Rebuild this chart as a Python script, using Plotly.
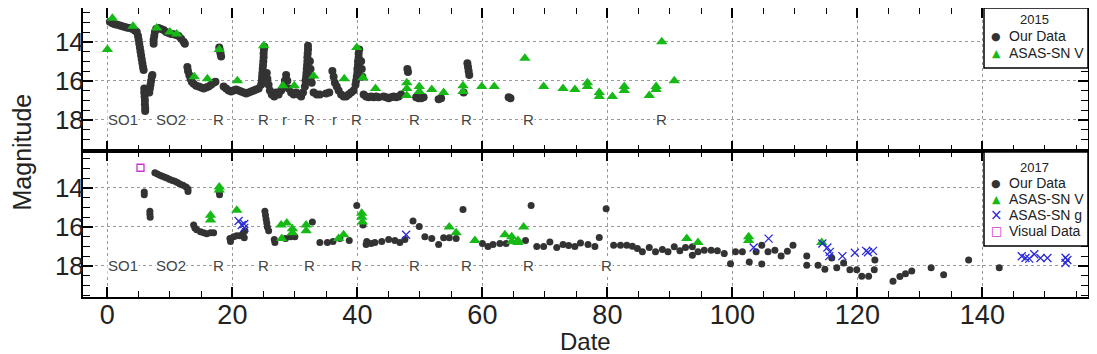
import plotly.graph_objects as go
from plotly.subplots import make_subplots

# 2015 outburst - our photometry
d15_date = [0.4, 0.8, 1.2, 1.6, 2.0, 2.4, 2.8, 3.2, 3.6, 4.0, 4.4, 4.7,
            4.9, 5.0, 5.1, 5.2, 5.3, 5.4, 5.5, 5.6, 5.7, 5.8,
            5.9, 5.9, 5.95, 6.0, 6.0, 6.05, 6.05,
            6.7, 6.8, 6.9, 7.0, 7.1, 7.2,
            7.4, 7.4, 7.5, 7.6, 7.8, 8.2, 8.6, 9.0, 9.4, 9.8, 10.2, 10.6, 11.0, 11.4, 11.8, 12.2, 12.4,
            12.8, 12.9, 13.1, 13.3, 13.5, 13.8, 14.2, 14.6, 15.0, 15.4, 15.8, 16.2, 16.6, 17.0, 17.3,
            17.9, 18.0, 18.1, 18.2,
            18.6, 19.0, 19.4, 19.8, 20.2, 20.6, 21.0, 21.4, 21.8, 22.2, 22.6, 23.0, 23.4, 23.8, 24.2,
            24.6, 24.7, 24.75, 24.8, 24.85, 24.9, 24.95, 25.0, 25.0, 25.05, 25.1,
            25.5, 25.6, 25.8, 26.0, 26.3, 26.7,
            27.0, 27.4, 27.8, 28.2, 28.4, 28.6, 28.8, 29.0, 29.4, 29.8, 30.2, 30.6, 31.0, 31.3,
            31.6, 31.7, 31.8, 31.85, 31.9, 31.95, 32.0, 32.0, 32.05, 32.1, 32.1, 32.4, 32.5, 32.6, 32.7,
            33.0, 33.5, 34.0, 35.0, 35.5,
            36.0, 36.2, 36.4, 36.7, 37.0, 37.4, 37.8, 38.2, 38.6, 39.0, 39.4,
            39.7, 39.8, 39.9, 40.0, 40.0, 40.1, 40.1, 40.2, 40.2, 40.3, 40.6, 40.7, 40.8,
            41.0, 41.4, 41.8, 42.2, 42.6, 43.0, 43.4, 44.2, 44.6, 45.0, 45.4, 45.8, 46.2, 46.6, 47.0,
            48.0, 48.1, 49.4, 49.8, 50.2, 50.6, 53.0, 53.4, 57.0,
            57.6, 57.7, 57.8, 57.9, 64.2, 64.5]
d15_mag = [12.98, 13.05, 13.1, 13.13, 13.17, 13.2, 13.24, 13.28, 13.3, 13.35, 13.42, 13.5,
           13.7, 13.9, 14.1, 14.3, 14.5, 14.7, 14.9, 15.1, 15.3, 15.45,
           16.4, 16.6, 16.8, 17.0, 17.2, 17.4, 17.55,
           16.6, 16.4, 16.2, 16.0, 15.8, 15.7,
           14.1, 13.9, 13.7, 13.5, 13.35, 13.3, 13.35, 13.4, 13.5, 13.55, 13.6, 13.62, 13.65, 13.7, 13.85, 14.0, 14.1,
           15.3, 15.5, 15.7, 15.9, 16.05, 16.15, 16.25, 16.3, 16.35, 16.4, 16.35, 16.3, 16.2, 16.1, 16.05,
           14.3, 14.45, 14.6, 14.75,
           16.3, 16.4, 16.5, 16.55, 16.5, 16.45, 16.5, 16.55, 16.6, 16.65, 16.6, 16.55, 16.5, 16.45, 16.4,
           16.2, 16.0, 15.8, 15.6, 15.4, 15.2, 15.0, 14.8, 14.6, 14.4, 14.25,
           15.6, 15.9, 16.2, 16.5, 16.7, 16.8,
           16.6, 16.7, 16.5, 16.3, 16.0, 15.7, 16.0, 16.4, 16.6, 16.7, 16.6, 16.7, 16.8, 16.6,
           16.3, 16.0, 15.8, 15.6, 15.4, 15.2, 15.0, 14.8, 14.6, 14.4, 14.2, 15.0, 15.4, 15.8, 16.1,
           16.6, 16.7, 16.7, 16.65, 16.6,
           15.5, 15.8, 16.1, 16.3, 16.5, 16.7, 16.8, 16.8, 16.7, 16.6, 16.5,
           16.2, 16.0, 15.8, 15.6, 15.4, 15.2, 15.0, 14.8, 14.6, 14.4, 15.0, 15.4, 15.8,
           16.7, 16.8, 16.85, 16.8, 16.85, 16.8, 16.85, 16.8, 16.85, 16.9, 16.85, 16.8, 16.85, 16.8, 16.7,
           15.4, 15.55, 16.85, 16.9, 16.9, 16.85, 16.95, 16.9, 16.6,
           15.1, 15.3, 15.5, 15.7, 16.85, 16.9]

# 2015 ASAS-SN V
v15_date = [0.0, 0.8, 4.1, 7.9, 10.0, 11.1, 13.9, 16.0, 17.9, 20.8, 25.0, 28.1, 29.9,
            33.0, 37.9, 39.9, 40.9, 42.9, 47.9, 47.9, 47.9, 49.9, 49.9, 51.9, 53.8,
            56.9, 56.9, 59.9, 61.9, 66.8, 69.8, 72.9, 74.8, 76.8, 76.8, 78.7, 78.7,
            80.8, 82.7, 82.7, 86.7, 87.8, 87.8, 88.7, 90.7]
v15_mag = [14.4, 12.8, 13.2, 13.3, 13.5, 13.6, 15.8, 15.9, 14.4, 16.0, 14.2, 16.25, 16.25,
           15.75, 15.9, 14.3, 15.85, 16.4, 16.1, 16.4, 16.75, 16.3, 16.55, 16.45, 16.6,
           16.25, 16.55, 16.3, 16.3, 14.85, 16.3, 16.4, 16.45, 16.1, 16.3, 16.6, 16.8,
           16.8, 16.3, 16.5, 16.75, 16.3, 16.45, 14.0, 16.0]

# 2017 outburst - our photometry
d17_date = [5.9, 5.9, 6.8, 6.8, 6.85,
            7.6, 8.0, 8.4, 8.8, 9.2, 9.6, 10.0, 10.4, 10.8, 11.2, 11.6, 12.1, 12.6, 12.9, 12.9,
            13.8, 14.0, 14.3, 14.9, 15.4, 15.9, 16.5, 17.0, 17.9, 17.95,
            19.6, 19.7, 20.2, 20.7, 21.2, 21.7, 21.9, 22.0,
            25.2, 25.3, 25.4, 25.5, 25.6, 25.8, 26.7, 26.8, 28.5, 29.3, 30.0, 32.8,
            34.0, 35.2, 36.1, 37.2, 38.7, 39.9, 40.9, 41.4, 41.5,
            42.2, 42.8, 43.9, 45.0, 46.0, 46.8, 47.6, 48.9, 49.9,
            50.8, 51.9, 53.0, 53.8, 54.7, 55.8, 56.9,
            60.0, 60.9, 61.7, 62.8, 63.8, 66.9, 67.8,
            68.7, 69.8, 70.8, 71.9, 72.9, 73.8, 74.8, 75.7, 76.9, 78.0, 78.7, 79.8,
            81.0, 82.1, 83.1, 84.0, 84.8, 85.6, 86.7, 87.7, 88.8, 89.7, 90.7, 91.6, 92.5,
            93.6, 93.6, 94.5, 95.5, 96.6, 97.6, 98.7, 99.7,
            100.5, 101.6, 102.7, 103.8, 104.7, 104.7, 105.7, 106.8, 107.8, 108.8, 109.7,
            111.9, 111.9, 113.7, 114.8, 115.9, 116.7, 117.8, 118.8, 119.9, 120.7, 121.8,
            122.7, 122.8, 125.7, 126.8, 127.7, 128.7, 131.8, 133.8, 137.8, 142.7]
d17_mag = [14.2, 14.35, 15.2, 15.35, 15.5,
           13.22, 13.28, 13.35, 13.4, 13.45, 13.5, 13.57, 13.62, 13.66, 13.72, 13.79, 13.86, 13.95, 14.05, 14.18,
           15.9, 16.05, 16.15, 16.25, 16.3, 16.35, 16.3, 16.3, 14.2, 14.35,
           16.6, 16.75, 16.5, 16.45, 16.45, 16.35, 16.55, 16.2,
           15.2, 15.4, 15.6, 15.8, 16.0, 16.2, 16.65, 16.8, 16.6, 16.5, 16.5, 15.75,
           16.8, 16.8, 16.75, 16.6, 16.7, 14.9, 15.9, 16.9, 16.75,
           16.85, 16.8, 16.75, 16.65, 16.7, 16.8, 16.65, 15.7, 15.98,
           16.5, 16.6, 16.9, 16.55, 16.55, 16.6, 15.1,
           16.85, 17.0, 16.9, 16.85, 16.85, 16.7, 14.9,
           17.0, 17.0, 16.77, 17.06, 16.9, 16.95, 17.0, 16.82, 16.9, 17.0, 16.54, 15.07,
           16.94, 16.94, 16.94, 16.99, 17.11, 17.28, 17.06, 17.28, 17.16, 17.28, 17.02, 17.23, 17.06,
           17.02, 17.46, 17.28, 17.2, 17.2, 17.23, 17.37, 17.89,
           17.28, 17.28, 17.8, 17.28, 16.94, 17.9, 17.28, 17.2, 17.5, 17.25, 16.94,
           17.5, 17.97, 17.97, 18.18, 17.6, 18.1, 17.85, 18.2, 18.2, 18.54, 18.54,
           18.2, 17.7, 18.79, 18.55, 18.4, 18.27, 18.1, 18.46, 17.7, 18.1]

# 2017 ASAS-SN V
v17_date = [17.9, 17.9, 16.5, 16.5, 20.7, 27.8, 28.7, 27.9, 29.6, 29.6, 31.8, 31.8,
            37.0, 37.8, 40.7, 40.7, 40.8, 54.7, 55.8, 58.8, 63.6, 64.7, 64.7, 65.7, 65.7,
            66.6, 92.7, 94.5, 102.6, 102.6, 114.3]
v17_mag = [13.95, 14.1, 15.4, 15.65, 15.15, 15.9, 15.8, 16.6, 16.1, 16.3, 15.9, 16.2,
           16.6, 16.4, 15.3, 15.5, 15.75, 16.0, 16.3, 16.7, 16.4, 16.5, 16.75, 16.7, 16.8,
           16.0, 16.6, 16.8, 16.5, 16.7, 16.8]

# 2017 ASAS-SN g
g17_date = [21.0, 21.5, 21.9, 21.9, 47.8, 103.4, 105.8, 114.4, 115.2, 115.6, 115.5,
            117.6, 119.6, 121.4, 121.7, 122.5, 146.3, 146.9, 147.5, 148.3, 149.3, 150.4,
            153.3, 153.3, 153.6]
g17_mag = [15.7, 15.9, 16.05, 15.85, 16.4, 17.06, 16.6, 16.85, 17.06, 17.28, 17.5,
           17.5, 17.33, 17.23, 17.3, 17.23, 17.51, 17.6, 17.63, 17.4, 17.6, 17.6,
           17.58, 17.85, 17.7]

# 2017 visual estimate
vis17_date = [5.3]
vis17_mag = [12.96]

# stage labels
lab15_date = [2.56, 10.1, 17.8, 25.0, 28.4, 32.4, 36.4, 39.9, 49.1, 57.5, 67.4, 88.7]
lab15_text = ["SO1", "SO2", "R", "R", "r", "R", "r", "R", "R", "R", "R", "R"]
lab17_date = [2.56, 10.1, 17.8, 25.0, 32.4, 39.9, 49.1, 57.5, 67.4, 79.9]
lab17_text = ["SO1", "SO2", "R", "R", "R", "R", "R", "R", "R", "R"]

FONT = "Liberation Sans, Arial, sans-serif"
DARK = "#333333"
GREEN = "#16b916"
BLUE = "#2a2ad8"
MAGENTA = "#cc33cc"
INK = "#222222"

# plot area in window pixels (page is drawn with an 8px body margin)
PX0, PX1, PY0, PY1 = 83, 1088, 8, 297


def px(x):
    return (x - PX0) / (PX1 - PX0)


def py(y):
    return (PY1 - y) / (PY1 - PY0)


fig = make_subplots(rows=2, cols=1, shared_xaxes=True, vertical_spacing=0)

fig.add_trace(go.Scatter(x=d15_date, y=d15_mag, mode="markers", name="Our Data",
                         marker=dict(symbol="circle", size=8, color=DARK)), row=1, col=1)
fig.add_trace(go.Scatter(x=v15_date, y=v15_mag, mode="markers", name="ASAS-SN V",
                         marker=dict(symbol="triangle-up", size=10, color=GREEN)), row=1, col=1)

fig.add_trace(go.Scatter(x=d17_date, y=d17_mag, mode="markers", name="Our Data",
                         marker=dict(symbol="circle", size=7, color=DARK)), row=2, col=1)
fig.add_trace(go.Scatter(x=v17_date, y=v17_mag, mode="markers", name="ASAS-SN V",
                         marker=dict(symbol="triangle-up", size=10, color=GREEN)), row=2, col=1)
fig.add_trace(go.Scatter(x=g17_date, y=g17_mag, mode="markers", name="ASAS-SN g",
                         marker=dict(symbol="x-thin-open", size=8, color=BLUE,
                                     line=dict(width=1.3, color=BLUE))), row=2, col=1)
fig.add_trace(go.Scatter(x=vis17_date, y=vis17_mag, mode="markers", name="Visual Data",
                         marker=dict(symbol="square-open", size=7, color=MAGENTA,
                                     line=dict(width=1.3, color=MAGENTA))), row=2, col=1)

for d, t in zip(lab15_date, lab15_text):
    fig.add_annotation(x=d, y=18, text=t, showarrow=False, xref="x", yref="y",
                       font=dict(size=15, color="#444444", family=FONT), bgcolor="white",
                       borderpad=0)
for d, t in zip(lab17_date, lab17_text):
    fig.add_annotation(x=d, y=18, text=t, showarrow=False, xref="x2", yref="y2",
                       font=dict(size=15, color="#444444", family=FONT), bgcolor="white",
                       borderpad=0)

xaxis_style = dict(range=[-3.9, 156.9], dtick=20, tick0=0, ticks="inside", ticklen=10,
                   tickwidth=1.5, tickcolor="black", mirror="allticks", showline=True,
                   linewidth=2, linecolor="black", showgrid=True, gridcolor="#999999",
                   griddash="dot", gridwidth=1, zeroline=False, automargin=False,
                   minor=dict(dtick=5, ticks="inside", ticklen=6, tickwidth=1.2,
                              tickcolor="black", showgrid=False))
yaxis_style = dict(tickvals=[14, 16, 18], ticks="inside", ticklen=10,
                   tickwidth=1.5, tickcolor="black", mirror="allticks", showline=True,
                   linewidth=2, linecolor="black", showgrid=True, gridcolor="#999999",
                   griddash="dot", gridwidth=1, zeroline=False, ticklabelstandoff=-8,
                   automargin=False,
                   tickfont=dict(size=26, color=INK, family=FONT),
                   minor=dict(dtick=0.5, tick0=12, ticks="inside", ticklen=7,
                              tickwidth=1.2, tickcolor="black", showgrid=False))

fig.update_xaxes(**xaxis_style)
fig.update_xaxes(showticklabels=False, row=1, col=1)
fig.update_xaxes(tickfont=dict(size=27, color=INK, family=FONT), ticklabelstandoff=-7,
                 row=2, col=1)
fig.update_yaxes(**yaxis_style)
fig.update_yaxes(range=[19.6, 12.27], domain=[py(151), 1], row=1, col=1)
fig.update_yaxes(range=[19.6, 12.1], domain=[0, py(151)], row=2, col=1)

fig.add_annotation(text="Magnitude", x=0, xref="paper", xanchor="left", xshift=-78,
                   y=0.5, yref="paper", yanchor="middle", textangle=-90, showarrow=False,
                   font=dict(size=25, color=INK, family=FONT))
fig.add_annotation(text="Date", x=0.5, xref="paper", xanchor="center",
                   y=py(341), yref="paper", yanchor="middle", showarrow=False,
                   font=dict(size=24, color=INK, family=FONT))

# legend boxes drawn as in the original (compact, framed, titled by year)
legends = [
    ("2015", 8, 68, 20, [("●", DARK, 11, "Our Data", 36),
                         ("▲", GREEN, 11, "ASAS-SN V", 53)]),
    ("2017", 152, 246, 167, [("●", DARK, 11, "Our Data", 183),
                             ("▲", GREEN, 11, "ASAS-SN V", 199),
                             ("×", BLUE, 15, "ASAS-SN g", 215),
                             ("□", MAGENTA, 12, "Visual Data", 231)]),
]
for title, top, bottom, ty, items in legends:
    fig.add_shape(type="rect", xref="paper", yref="paper", x0=px(984), x1=px(1088),
                  y0=py(bottom), y1=py(top), fillcolor="white",
                  line=dict(color="black", width=1.5), layer="above")
    fig.add_annotation(text=title, x=px(1034), y=py(ty), xref="paper", yref="paper",
                       xanchor="center", yanchor="middle", showarrow=False,
                       font=dict(size=13, color=INK, family=FONT))
    for sym, col, sz, name, iy in items:
        fig.add_annotation(text=sym, x=px(996), y=py(iy), xref="paper", yref="paper",
                           xanchor="center", yanchor="middle", showarrow=False,
                           font=dict(size=sz, color=col, family="DejaVu Sans"))
        fig.add_annotation(text=name, x=px(1007), y=py(iy), xref="paper", yref="paper",
                           xanchor="left", yanchor="middle", showarrow=False,
                           font=dict(size=14, color=INK, family=FONT))

fig.update_layout(
    width=1097, height=354,
    margin=dict(l=75, r=17, t=0, b=65),
    plot_bgcolor="white", paper_bgcolor="white",
    font=dict(family=FONT),
    showlegend=False,
)

fig.write_html("out.html")
